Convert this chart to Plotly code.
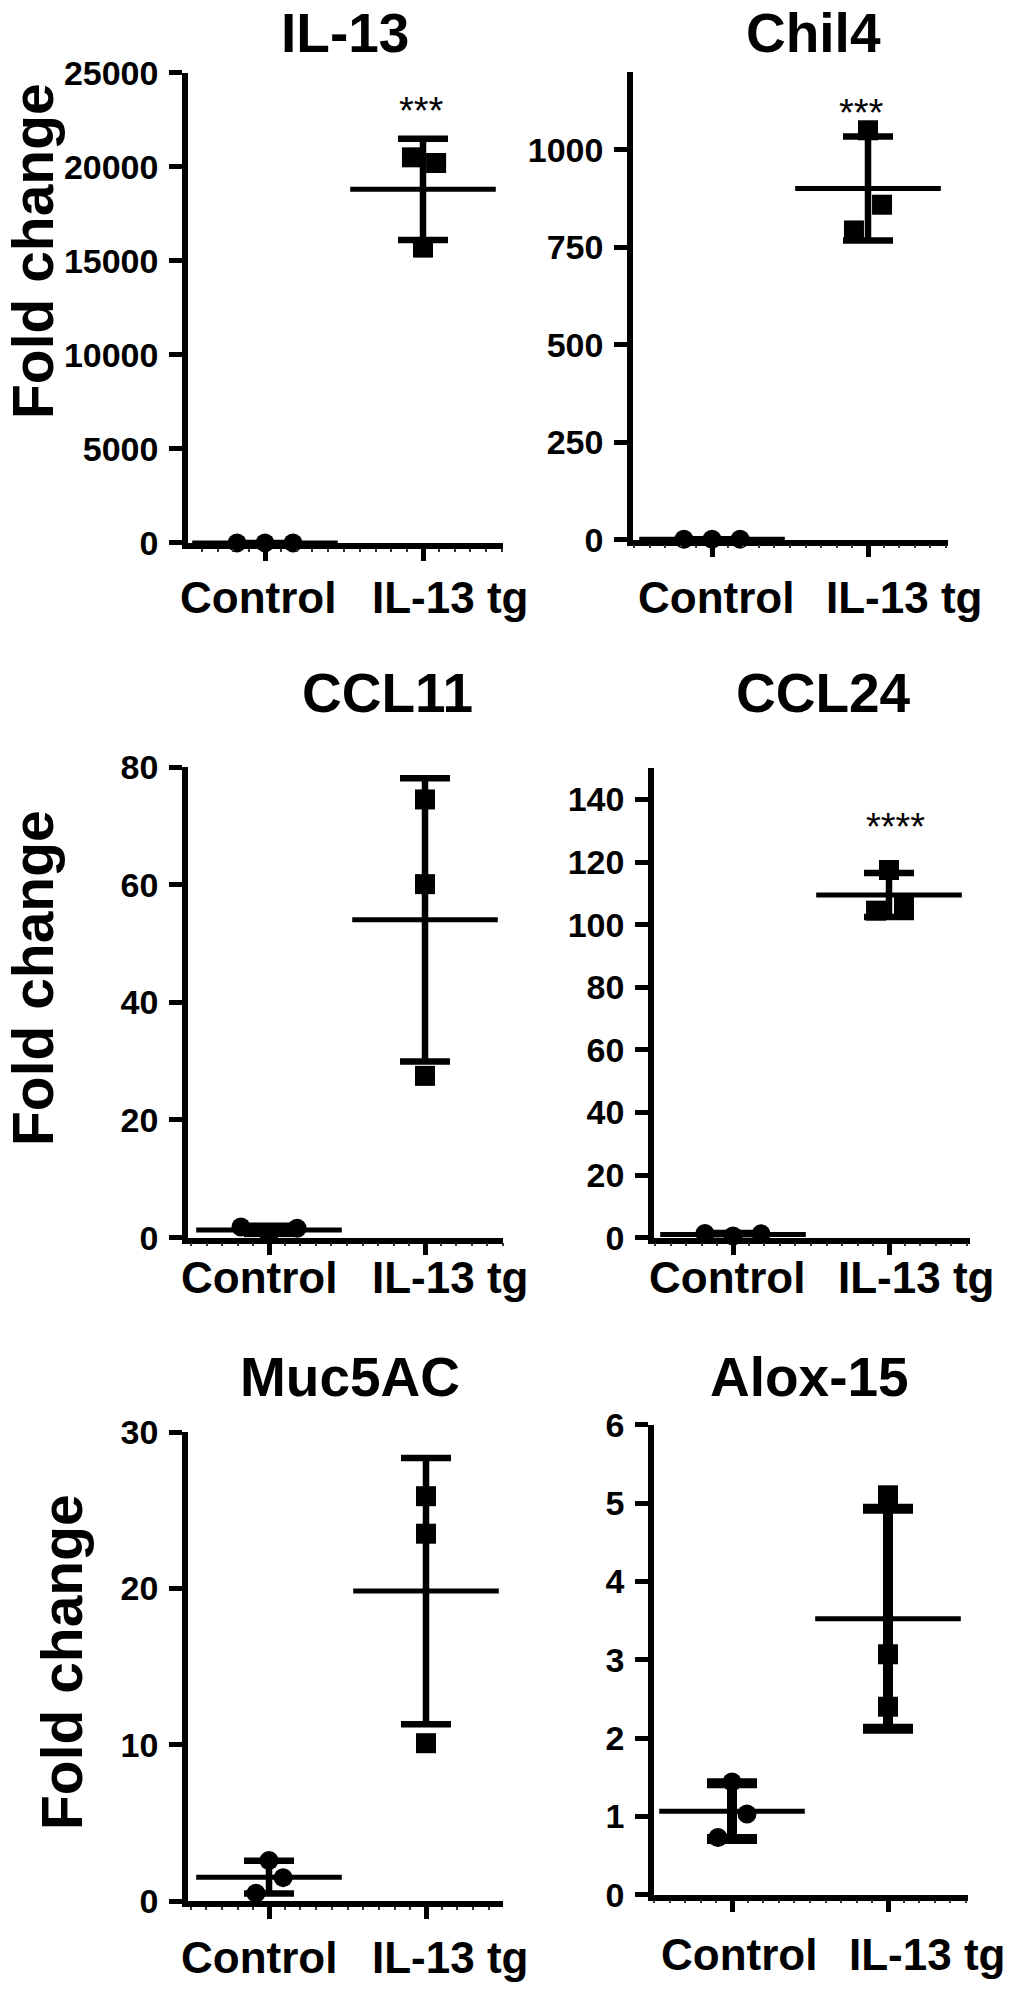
import numpy as np
import plotly.graph_objects as go

# ---------------- data ----------------
groups = ["Control", "IL-13 tg"]
genes = ["IL-13", "Chil4", "CCL11", "CCL24", "Muc5AC", "Alox-15"]

il13_control = [1.0, 0.9, 1.1]
il13_tg = [20500, 20200, 15700]
chil4_control = [1.0, 0.8, 1.2]
chil4_tg = [1050, 859, 793]
ccl11_control = [1.8, 0.5, 1.6]
ccl11_tg = [74.5, 60.1, 27.5]
ccl24_control = [1.3, 0.5, 1.2]
ccl24_tg = [117.5, 104.5, 106.5]
muc5ac_control = [0.5, 2.6, 1.5]
muc5ac_tg = [25.9, 23.5, 10.1]
alox15_control = [0.73, 1.44, 1.03]
alox15_tg = [5.1, 3.07, 2.4]

significance = ["***", "***", "*", "****", "*", ""]
y_axis_max = [25000, 1200, 80, 150, 30, 6]
y_tick_values = [
    [0, 5000, 10000, 15000, 20000, 25000],
    [0, 250, 500, 750, 1000],
    [0, 20, 40, 60, 80],
    [0, 20, 40, 60, 80, 100, 120, 140],
    [0, 10, 20, 30],
    [0, 1, 2, 3, 4, 5, 6],
]

control_data = [il13_control, chil4_control, ccl11_control, ccl24_control, muc5ac_control, alox15_control]
tg_data = [il13_tg, chil4_tg, ccl11_tg, ccl24_tg, muc5ac_tg, alox15_tg]

# ---------------- layout / style ----------------
W, H = 1012, 1996
# pixel boxes of each plot area: (left, right, top, bottom)
boxes = [
    (188, 503, 72.7, 542.9),
    (633, 948, 71.8, 539.6),
    (188, 503, 767.1, 1237.6),
    (654, 970, 768.3, 1237.6),
    (188, 503, 1432.1, 1901.1),
    (654, 968, 1424.8, 1894.7),
]
# pixel x of the two category ticks
tick_px = [(265, 423), (712, 868), (269, 425), (733, 889), (269, 426), (732, 888)]
# horizontal scatter of the dots (in category units)
ctrl_jitter = [
    [-0.177, 0, 0.177],
    [-0.18, 0, 0.18],
    [-0.18, 0, 0.18],
    [-0.18, 0, 0.18],
    [-0.083, 0, 0.09],
    [-0.09, 0, 0.096],
]
tg_jitter = [
    [-0.07, 0.083, 0],
    [0, 0.09, -0.09],
    [0, 0, 0],
    [0, -0.083, 0.096],
    [0, 0, 0],
    [0, 0, 0],
]
star_x = [0.99, 0.96, 1.0, 1.04, 0.97, None]
star_y = [23442, 1117, 82.8, 134.2, 30.3, None]
title_pos = [(345, 33), (813, 33), (387, 693), (823, 693), (350, 1377), (809, 1377)]
ytitle_pos = [(33, 251), None, (33, 978), None, (62, 1662), None]
xlabel_pos = [
    ((258, 597), (450, 597)),
    ((716, 597), (904, 597)),
    ((259, 1277), (450, 1277)),
    ((727, 1277), (916, 1277)),
    ((259, 1957), (450, 1957)),
    ((739, 1954), (927, 1954)),
]
err_thick = [6.5, 6.5, 6.5, 6.5, 6.5, 10]

FONT = "Liberation Sans, Arial, sans-serif"
BLACK = "#000000"

fig = go.Figure()
annotations = []

for i in range(6):
    ax = "" if i == 0 else str(i + 1)
    xref, yref = "x" + ax, "y" + ax
    l, r, t, b = boxes[i]
    c0, c1 = tick_px[i]
    unit = c1 - c0
    x_range = [(l - c0) / unit, (r - c0) / unit]

    ctrl = np.array(control_data[i], dtype=float)
    tg = np.array(tg_data[i], dtype=float)

    # individual points
    fig.add_trace(go.Scatter(
        x=[0 + d for d in ctrl_jitter[i]], y=ctrl, mode="markers",
        marker=dict(symbol="circle", size=19, color=BLACK),
        xaxis=xref, yaxis=yref, cliponaxis=False, showlegend=False))
    fig.add_trace(go.Scatter(
        x=[1 + d for d in tg_jitter[i]], y=tg, mode="markers",
        marker=dict(symbol="square", size=20, color=BLACK),
        xaxis=xref, yaxis=yref, cliponaxis=False, showlegend=False))

    # mean +/- SD
    means = [ctrl.mean(), tg.mean()]
    sds = [ctrl.std(ddof=1), tg.std(ddof=1)]
    fig.add_trace(go.Scatter(
        x=[0, 1], y=means, mode="markers",
        marker=dict(symbol="line-ew", size=104, color=BLACK,
                    line=dict(width=5, color=BLACK)),
        error_y=dict(type="data", array=sds, visible=True, width=25,
                     thickness=err_thick[i], color=BLACK),
        xaxis=xref, yaxis=yref, cliponaxis=False, showlegend=False))

    fig.update_layout(**{
        "xaxis" + ax: dict(
            domain=[l / W, r / W], range=x_range, anchor=yref, automargin=False,
            tickmode="array", tickvals=[0, 1], ticktext=groups, showticklabels=False,
            showline=True, linewidth=5.5, linecolor=BLACK,
            ticks="outside", ticklen=12, tickwidth=5, tickcolor=BLACK,
            minor=dict(ticks="outside", ticklen=3, tickwidth=1.5, tickcolor="#333333",
                       dtick=0.1, tick0=0),
            showgrid=False, zeroline=False, fixedrange=True),
        "yaxis" + ax: dict(
            domain=[1 - b / H, 1 - t / H], range=[0, y_axis_max[i]], anchor=xref,
            automargin=False,
            tickmode="array", tickvals=y_tick_values[i],
            ticktext=[str(v) for v in y_tick_values[i]],
            showline=True, linewidth=5.5, linecolor=BLACK,
            ticks="outside", ticklen=13, tickwidth=5, tickcolor=BLACK,
            ticklabelstandoff=4,
            tickfont=dict(family=FONT, size=34, color=BLACK, weight="bold"),
            showgrid=False, zeroline=False, fixedrange=True),
    })

    # panel title
    tx, ty = title_pos[i]
    annotations.append(dict(
        text="<b>%s</b>" % genes[i], x=tx / W, y=1 - ty / H, xref="paper", yref="paper",
        xanchor="center", yanchor="middle", showarrow=False,
        font=dict(family=FONT, size=55, color=BLACK)))

    # category labels
    for k in range(2):
        lx, ly = xlabel_pos[i][k]
        annotations.append(dict(
            text="<b>%s</b>" % groups[k], x=lx / W, y=1 - ly / H, xref="paper", yref="paper",
            xanchor="center", yanchor="middle", showarrow=False,
            font=dict(family=FONT, size=44, color=BLACK)))

    # y-axis title
    if ytitle_pos[i] is not None:
        yx, yy = ytitle_pos[i]
        annotations.append(dict(
            text="<b>Fold change</b>", x=yx / W, y=1 - yy / H, xref="paper", yref="paper",
            xanchor="center", yanchor="middle", textangle=-90, showarrow=False,
            font=dict(family=FONT, size=57, color=BLACK)))

    # significance stars
    if significance[i]:
        annotations.append(dict(
            text=significance[i], x=star_x[i], y=star_y[i], xref=xref, yref=yref,
            xanchor="center", yanchor="middle", yshift=-9, showarrow=False,
            font=dict(family=FONT, size=38, color=BLACK)))

fig.update_layout(
    width=W, height=H,
    margin=dict(l=0, r=0, t=0, b=0, pad=0, autoexpand=False),
    paper_bgcolor="white", plot_bgcolor="white",
    showlegend=False,
    annotations=annotations,
)

fig.write_html("out.html", config={"displayModeBar": False},
               post_script="document.body.style.margin='0';")
